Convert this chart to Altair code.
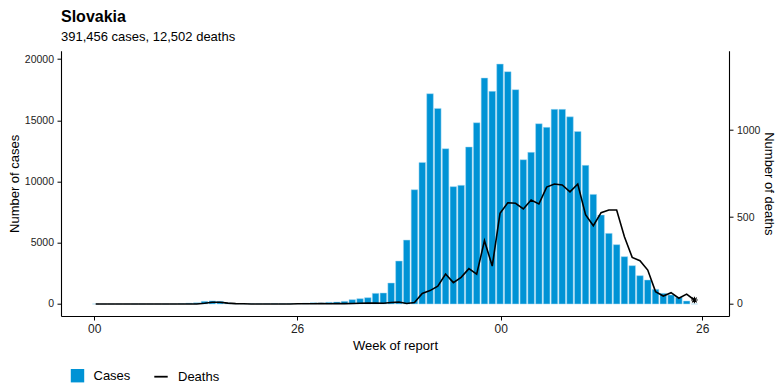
import altair as alt
import pandas as pd

# ---- data ----
weeks = list(range(78))
cases = [0, 0, 0, 0, 0, 0, 0, 0, 0, 0,
         5, 30, 70, 100, 220, 250, 220, 90, 40, 30,
         20, 15, 20, 25, 20, 30, 40, 70, 100, 90,
         140, 163, 218, 354, 435, 517, 870, 898, 1714, 3509,
         5222, 9330, 11560, 17170, 15970, 12680, 9580, 9690, 12820, 14800,
         18450, 17360, 19590, 18970, 17500, 11780, 12380, 14720, 14420, 15890,
         15890, 15280, 14080, 11320, 8950, 7265, 5768, 4844, 3864, 3129,
         2313, 1959, 1197, 871, 735, 544, 245, 0]
deaths = [0, 0, 0, 0, 0, 0, 0, 0, 0, 0, 0, 0, 0, 0,
          4, 10, 10, 5, 2, 1,
          0, 0, 0, 0, 0, 0, 1, 1, 1, 2,
          1, 2, 2, 3, 4, 5, 6, 4, 9, 11,
          3, 8, 61, 77, 103, 172, 123, 153, 203, 171,
          364, 218, 521, 582, 579, 546, 598, 575, 672, 690,
          684, 645, 690, 513, 450, 525, 540, 540, 387, 268,
          249, 195, 71, 46, 65, 33, 57, 23]
x_tick_values = [-0.2, 25.9, 52.1, 78.0]
x_tick_labels = ["00", "26", "00", "26"]
case_ticks = [0, 5000, 10000, 15000, 20000]
death_ticks = [0, 500, 1000]

df = pd.DataFrame({"week": weeks, "cases": cases, "deaths": deaths})
df["s_cases"] = "Cases"
df["s_deaths"] = "Deaths"
last = df.iloc[[len(df) - 1]]

FONT = "Liberation Sans"
W, H = 668, 265.3
BLUE = "#0093D5"

label_expr = " : ".join(
    [f"abs(datum.value - {v}) < 0.5 ? '{l}'" for v, l in zip(x_tick_values, x_tick_labels)]
) + " : ''"

common_axis = dict(grid=False, domainColor="#000000", domainWidth=1.1, tickColor="#000000",
                   tickSize=4, tickWidth=1, labelColor="#222222", labelFont=FONT,
                   titleFont=FONT, titleFontSize=13, titleFontWeight="normal",
                   titleColor="#000000")

xscale = alt.Scale(domain=[-4.46, 81.45], nice=False, zero=False, padding=0)
xaxis = alt.Axis(values=x_tick_values, labelExpr=label_expr, title="Week of report",
                 titleX=W / 2, titleY=29, titleBaseline="middle", titleAlign="center",
                 labelFontSize=12, labelPadding=3, **common_axis)

yscale_c = alt.Scale(domain=[-980, 20680], nice=False, zero=False)
yaxis_c = alt.Axis(values=case_ticks, format="d", title="Number of cases", orient="left",
                   titleX=-47, titleY=H / 2, titleAngle=-90, titleBaseline="middle",
                   titleAlign="center", labelFontSize=10.5, labelPadding=3.5, **common_axis)

yscale_d = alt.Scale(domain=[-69, 1456], nice=False, zero=False)
yaxis_d = alt.Axis(values=death_ticks, format="d", title="Number of deaths", orient="right",
                   titleX=39, titleY=H / 2, titleAngle=90, titleBaseline="middle",
                   titleAlign="center", labelFontSize=10.5, labelPadding=3.5, **common_axis)

bars = alt.Chart(df).mark_bar(size=6.6, stroke="#A8DBF3", strokeWidth=0.5).encode(
    x=alt.X("week:Q", scale=xscale, axis=xaxis),
    y=alt.Y("cases:Q", scale=yscale_c, axis=yaxis_c, stack=None),
    y2=alt.datum(0),
    fill=alt.Fill("s_cases:N", scale=alt.Scale(domain=["Cases"], range=[BLUE]),
                  legend=alt.Legend(title=None, orient="none", legendX=9.5, legendY=318,
                                    direction="horizontal", symbolType="square",
                                    symbolSize=180, symbolStrokeWidth=0,
                                    labelOffset=9, labelFontSize=13)),
)

line = alt.Chart(df).mark_line(strokeWidth=1.6).encode(
    x=alt.X("week:Q", scale=xscale, axis=xaxis),
    y=alt.Y("deaths:Q", scale=yscale_d, axis=yaxis_d),
    stroke=alt.Stroke("s_deaths:N", scale=alt.Scale(domain=["Deaths"], range=["#000000"]),
                      legend=alt.Legend(title=None, orient="none", legendX=92, legendY=318,
                                        direction="horizontal", symbolType="stroke",
                                        symbolSize=180, symbolStrokeWidth=1.8,
                                        labelOffset=9, labelFontSize=13)),
)

star = alt.Chart(last).mark_point(
    shape="M-1,0L1,0M0,-1L0,1M-0.7,-0.7L0.7,0.7M-0.7,0.7L0.7,-0.7",
    size=45, filled=False, stroke="#000000", strokeWidth=1.1, opacity=1,
).encode(
    x=alt.X("week:Q", scale=xscale, axis=xaxis),
    y=alt.Y("deaths:Q", scale=yscale_d, axis=yaxis_d),
)

chart = alt.layer(bars, alt.layer(line, star)).resolve_scale(
    y="independent"
).properties(
    width=W, height=H,
    autosize="none",
    background="white",
    padding={"left": 61, "top": 50.7, "right": 55, "bottom": 76},
    title=alt.TitleParams(text="Slovakia", subtitle="391,456 cases, 12,502 deaths",
                          anchor="start", frame="group", font=FONT, fontSize=16,
                          fontWeight="bold", color="#000000", subtitleFont=FONT,
                          subtitleFontSize=13, subtitleColor="#000000",
                          offset=7, subtitlePadding=6),
).configure_view(stroke=None).configure_legend(
    labelFont=FONT, labelColor="#000000", padding=0,
)

chart.save("out.html", embed_options={"renderer": "svg", "actions": False})
